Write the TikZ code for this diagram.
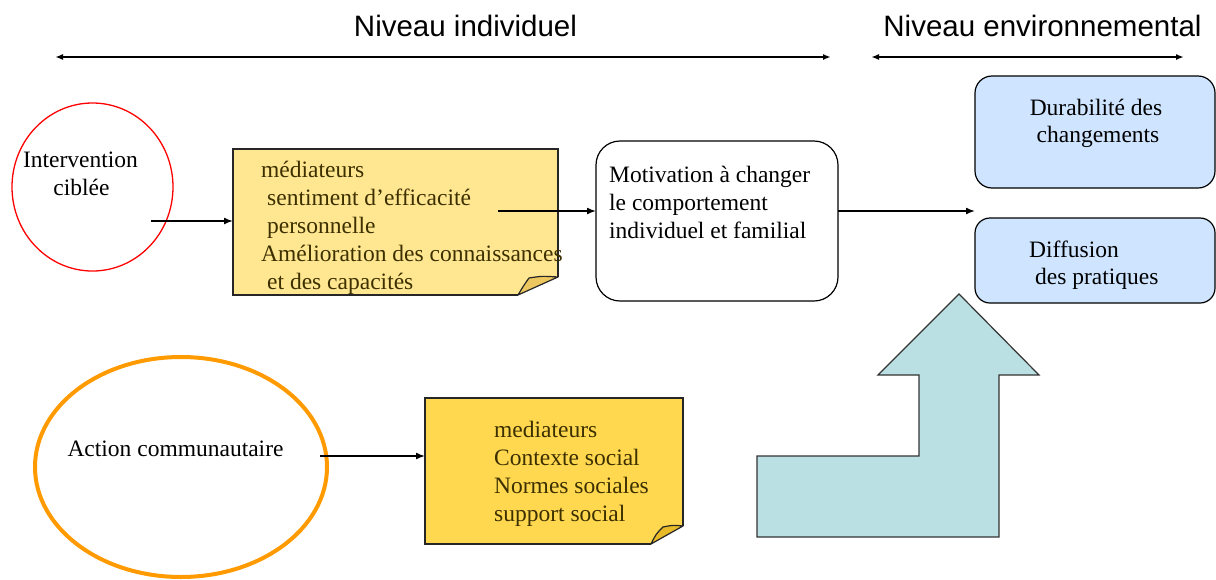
\documentclass[tikz,border=0pt]{standalone}
\usepackage{fontspec}
\setmainfont{Liberation Serif}
\newfontfamily\hdrfont{Liberation Sans}
\usetikzlibrary{arrows.meta,shapes.geometric}
\definecolor{noteA}{RGB}{255,230,145}
\definecolor{noteAflap}{RGB}{236,198,95}
\definecolor{noteB}{RGB}{255,216,80}
\definecolor{noteBflap}{RGB}{232,186,40}
\definecolor{notetext}{RGB}{60,48,0}
\definecolor{bluebox}{RGB}{206,228,255}
\definecolor{bigarrowfill}{RGB}{187,224,227}
\definecolor{orangeline}{RGB}{255,155,0}
\tikzset{
  txt/.style={inner sep=0pt, font=\fontsize{23.5}{28}\selectfont, anchor=base west},
  notetxt/.style={txt, text=notetext},
  hdr/.style={inner sep=0pt, font=\hdrfont\fontsize{29.5}{34}\selectfont, anchor=base},
  arr/.style={line width=1.5pt, -{Latex[length=9pt,width=7pt]}},
  darr/.style={line width=2pt, {Latex[length=8pt,width=6pt]}-{Latex[length=8pt,width=6pt]}},
  placebox/.style={inner sep=0pt, outer sep=0pt},
  notefill/.style={draw=black!85, line width=1.5pt, line join=miter},
  roundbox/.style={draw=black, line width=1.2pt, rounded corners=#1},
}
\begin{document}
\begin{tikzpicture}[x=1pt,y=-1pt]
\useasboundingbox (0,0) rectangle (1216,579);

% headers
\node[hdr] (h1) at (465.5,36) {Niveau individuel};
\node[hdr] (h2) at (1042.5,36) {Niveau environnemental};
\coordinate (a1l) at (55,57);
\coordinate (a1r) at (831,57);
\coordinate (a2l) at (871,57);
\coordinate (a2r) at (1184,57);
\draw[darr] (a1l) -- (a1r);
\draw[darr] (a2l) -- (a2r);

% Intervention ciblee
\node[ellipse, draw=red, line width=1.3pt, minimum width=161pt, minimum height=168pt, inner sep=0pt] (ie) at (92.5,187) {};
\node[txt, anchor=base] (ie1) at (80.5,167) {Intervention};
\node[txt, anchor=base] (ie2) at (81.5,195) {ciblée};

% note 1
\node[placebox, minimum width=325pt, minimum height=146pt] (n1) at (395.5,222) {};
\fill[noteA] (n1.north west) -- (n1.north east) -- ([yshift=18pt]n1.south east) -- ([xshift=-40pt]n1.south east) -- (n1.south west) -- cycle;
\filldraw[fill=noteAflap, draw=black!85, line width=1.2pt, line join=round] ([xshift=-40pt]n1.south east) .. controls ([xshift=-34pt,yshift=10pt]n1.south east) .. ([xshift=-29pt,yshift=17pt]n1.south east) .. controls ([xshift=-16pt,yshift=19pt]n1.south east) .. ([yshift=18pt]n1.south east) -- cycle;
\draw[notefill] ([yshift=18pt]n1.south east) -- (n1.north east) -- (n1.north west) -- (n1.south west) -- ([xshift=-40pt]n1.south east);
\node[notetxt] (n1l1) at (261,177) {médiateurs};
\node[notetxt] (n1l2) at (267,205) {sentiment d’efficacité};
\node[notetxt] (n1l3) at (267,233) {personnelle};
\node[notetxt] (n1l4) at (261,261) {Amélioration des connaissances};
\node[notetxt] (n1l5) at (267,289) {et des capacités};

% Motivation box
\node[placebox, minimum width=242pt, minimum height=160pt] (mot) at (717,221) {};
\draw[roundbox=24pt, fill=white] (mot.north west) rectangle (mot.south east);
\node[txt] (m1) at (609,182) {Motivation à changer};
\node[txt] (m2) at (609,210) {le comportement};
\node[txt] (m3) at (609,238) {individuel et familial};

% blue boxes
\node[placebox, minimum width=240pt, minimum height=112pt] (dur) at (1095,132) {};
\draw[roundbox=17pt, fill=bluebox] (dur.north west) rectangle (dur.south east);
\node[txt, anchor=base] (d1) at (1096,115) {Durabilité des};
\node[txt, anchor=base] (d2) at (1098,142) {changements};

\node[placebox, minimum width=240pt, minimum height=85pt] (dif) at (1095,260.5) {};
\draw[roundbox=15pt, fill=bluebox] (dif.north west) rectangle (dif.south east);
\node[txt] (f1) at (1029,257) {Diffusion};
\node[txt] (f2) at (1035,284) {des pratiques};

% big arrow
\draw[fill=bigarrowfill, draw=black!80, line width=1.2pt, line join=miter]
  (959,294) -- (1039,375) -- (999,375) -- (999,537) -- (757,537) -- (757,456) -- (919,456) -- (919,375) -- (878,375) -- cycle;

% Action communautaire
\node[ellipse, draw=orangeline, line width=4pt, minimum width=292pt, minimum height=220pt, inner sep=0pt] (ac) at (181,467) {};
\node[txt, anchor=base] (ac1) at (175.5,456) {Action communautaire};

% note 2
\node[placebox, minimum width=258pt, minimum height=146pt] (n2) at (554,471) {};
\fill[noteB] (n2.north west) -- (n2.north east) -- ([yshift=18pt]n2.south east) -- ([xshift=-32pt]n2.south east) -- (n2.south west) -- cycle;
\filldraw[fill=noteBflap, draw=black!85, line width=1.2pt, line join=round] ([xshift=-32pt]n2.south east) .. controls ([xshift=-27pt,yshift=10pt]n2.south east) .. ([xshift=-20pt,yshift=17pt]n2.south east) .. controls ([xshift=-10pt,yshift=19pt]n2.south east) .. ([yshift=18pt]n2.south east) -- cycle;
\draw[notefill] ([yshift=18pt]n2.south east) -- (n2.north east) -- (n2.north west) -- (n2.south west) -- ([xshift=-32pt]n2.south east);
\node[notetxt] (n2l1) at (494,437) {mediateurs};
\node[notetxt] (n2l2) at (494,465) {Contexte social};
\node[notetxt] (n2l3) at (494,493) {Normes sociales};
\node[notetxt] (n2l4) at (494,521) {support social};

% connectors
\coordinate (ieout) at (151,221);
\draw[arr] (ieout) -- (ieout -| n1.west);
\coordinate (n1out) at (498,211);
\draw[arr] (n1out) -- (n1out -| mot.west);
\draw[arr] (mot.east |- n1out) -- (n1out -| dur.west);
\coordinate (acout) at (320,456);
\draw[arr] (acout) -- (acout -| n2.west);
\end{tikzpicture}
\end{document}
